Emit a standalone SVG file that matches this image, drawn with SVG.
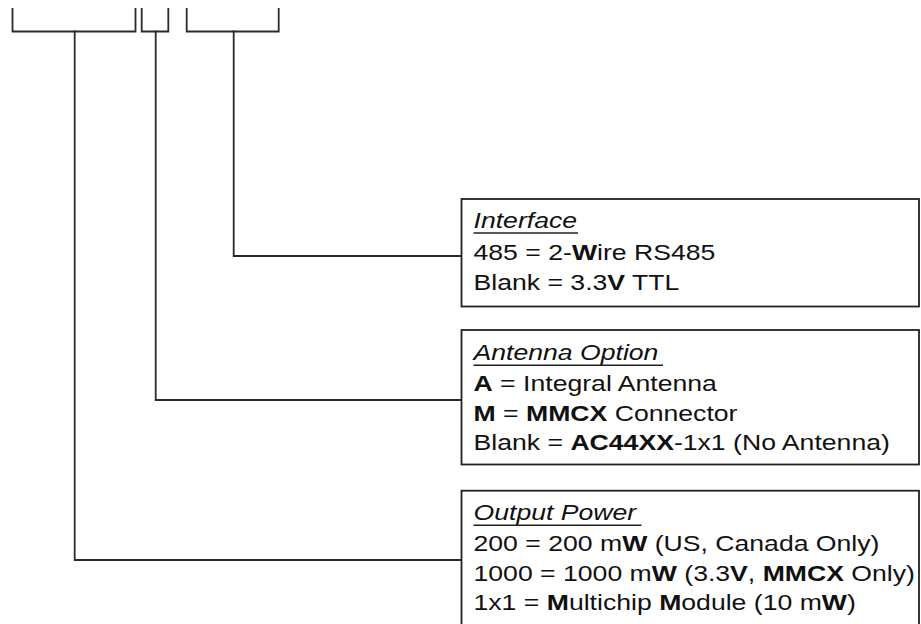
<svg xmlns="http://www.w3.org/2000/svg" width="921" height="624" viewBox="0 0 921 624">
<style>
.bg{fill:#ffffff}
.ln{fill:none;stroke:#2a2a2a;stroke-width:1.8;stroke-linecap:square}
.box{fill:#ffffff;stroke:#222222;stroke-width:1.8}
.t{font-family:"Liberation Sans",Arial,Helvetica,sans-serif;font-size:22px;fill:#111111}
.ti{font-style:italic}
.b{font-weight:bold}
.ul{stroke:#222222;stroke-width:1.6}
</style>
<rect class="bg" x="0" y="0" width="921" height="624"/>
<g id="connectors">
  <path id="bracket-power" class="ln" d="M12.5,9 V31.5 H135.5 V9"/>
  <path id="bracket-antenna" class="ln" d="M141.7,9 V31.5 H168.3 V9"/>
  <path id="bracket-interface" class="ln" d="M186.7,9 V31.5 H278.7 V9"/>
  <path id="link-interface" class="ln" d="M233.7,31.5 V256 H461"/>
  <path id="link-antenna" class="ln" d="M155.7,31.5 V400 H461"/>
  <path id="link-power" class="ln" d="M74.7,31.5 V560 H461"/>
</g>
<g id="node-interface">
  <rect class="box" x="461.5" y="199" width="457.5" height="107.5"/>
  <text class="t ti" transform="translate(473.5,228) scale(1.21,1)">Interface</text>
  <line class="ul" x1="473.5" y1="233" x2="578" y2="233"/>
  <text class="t" transform="translate(473.5,259.5) scale(1.21,1)">485 = 2-<tspan class="b">W</tspan>ire RS485</text>
  <text class="t" transform="translate(473.5,289.5) scale(1.21,1)">Blank = 3.3<tspan class="b">V</tspan> TTL</text>
</g>
<g id="node-antenna">
  <rect class="box" x="461.5" y="330" width="457.5" height="134.5"/>
  <text class="t ti" transform="translate(473.5,359.5) scale(1.21,1)">Antenna Option</text>
  <line class="ul" x1="473.5" y1="365.3" x2="663" y2="365.3"/>
  <text class="t" transform="translate(473.5,390.5) scale(1.21,1)"><tspan class="b">A</tspan> = Integral Antenna</text>
  <text class="t" transform="translate(473.5,420.5) scale(1.21,1)"><tspan class="b">M</tspan> = <tspan class="b">MMCX</tspan> Connector</text>
  <text class="t" transform="translate(473.5,450) scale(1.21,1)">Blank = <tspan class="b">AC44XX</tspan>-1x1 (No Antenna)</text>
</g>
<g id="node-power">
  <rect class="box" x="461.5" y="490.7" width="457.5" height="140"/>
  <text class="t ti" transform="translate(473.5,519.5) scale(1.21,1)">Output Power</text>
  <line class="ul" x1="473.5" y1="525.3" x2="641.5" y2="525.3"/>
  <text class="t" transform="translate(473.5,550.5) scale(1.21,1)">200 = 200 m<tspan class="b">W</tspan> (US, Canada Only)</text>
  <text class="t" transform="translate(473.5,580.5) scale(1.21,1)">1000 = 1000 m<tspan class="b">W</tspan> (3.3<tspan class="b">V</tspan>, <tspan class="b">MMCX</tspan> Only)</text>
  <text class="t" transform="translate(473.5,610) scale(1.21,1)">1x1 = <tspan class="b">M</tspan>ultichip <tspan class="b">M</tspan>odule (10 m<tspan class="b">W</tspan>)</text>
</g>
</svg>
